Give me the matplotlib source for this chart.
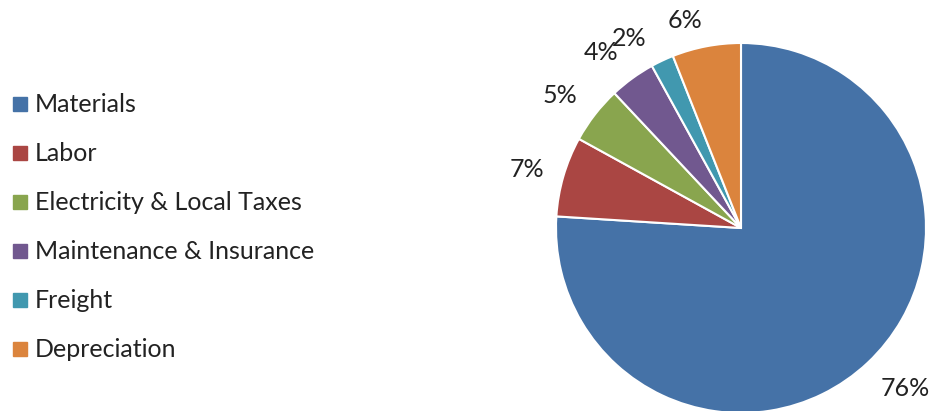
import matplotlib
matplotlib.use("Agg")
import matplotlib.pyplot as plt
from matplotlib.lines import Line2D

plt.rcParams['font.family'] = ['Lato', 'DejaVu Sans']

categories = ['Materials', 'Labor', 'Electricity & Local Taxes',
              'Maintenance & Insurance', 'Freight', 'Depreciation']
shares = [76, 7, 5, 4, 2, 6]
colors = ['#4572A7', '#AA4643', '#89A54E', '#71588F', '#4198AF', '#DB843D']
# where the percentage labels sit (pie radius = 1)
label_pos = [(0.886, -0.865), (-1.157, 0.314), (-0.978, 0.714),
             (-0.757, 0.951), (-0.605, 1.027), (-0.303, 1.124)]

fig = plt.figure(figsize=(9.32, 4.11), dpi=100)
# pie: centre ~ (741, 228) px, radius ~185 px
r = 185
ax = fig.add_axes([(741 - r) / 932, (183 - r) / 411, 2 * r / 932, 2 * r / 411])
wedges, texts, autotexts = ax.pie(
    shares, colors=colors, startangle=90, counterclock=False,
    autopct='%1.0f%%', pctdistance=1.2, radius=1,
    wedgeprops=dict(edgecolor='white', linewidth=1.5),
    textprops=dict(fontsize=18, color='#222222'))
for t, pos in zip(autotexts, label_pos):
    t.set_position(pos)
ax.set_xlim(-1, 1)
ax.set_ylim(-1, 1)
ax.set_aspect('equal')

handles = [Line2D([], [], marker='s', linestyle='none', markersize=10,
                  markerfacecolor=c, markeredgecolor=c) for c in colors]
fig.legend(handles, categories, loc='center left', bbox_to_anchor=(0.0, 0.447),
           frameon=False, fontsize=18, handlelength=0.6, handletextpad=0.3,
           labelspacing=1.04, borderaxespad=0.1, labelcolor='#222222')

fig.savefig('out.png', dpi=100)
